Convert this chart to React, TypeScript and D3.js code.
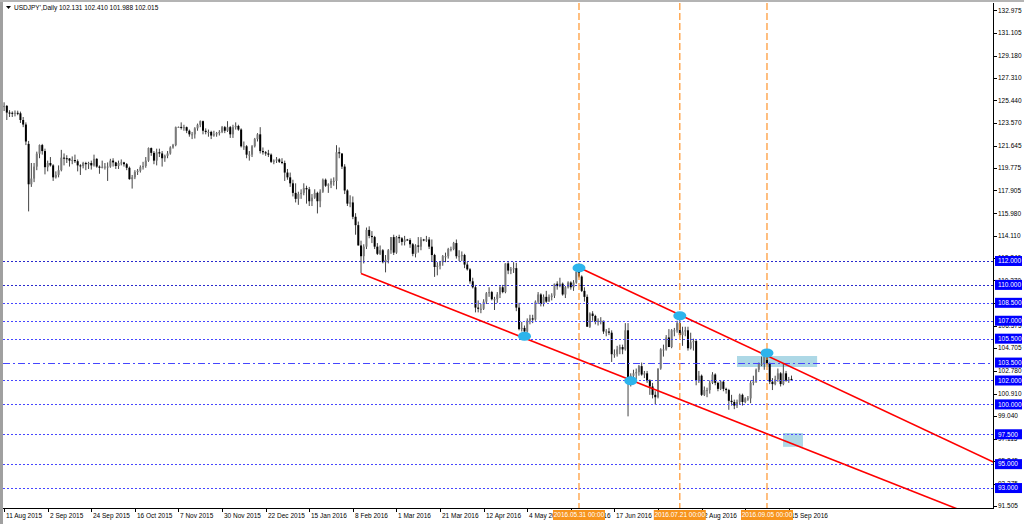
import React from 'react';
import * as d3 from 'd3';

const title = "USDJPY',Daily  102.131 102.410 101.988 102.015";

// daily bars [open, high, low, close], 11 Aug 2015 .. 16 Sep 2016
const bars: [number, number, number, number][] = [
  [124.88,125.28,124.55,124.98],[124.98,125.05,123.80,124.42],[124.42,124.62,124.05,124.40],[124.40,124.52,124.05,124.32],
  [124.32,124.60,124.10,124.40],[124.40,124.58,124.20,124.36],[124.36,124.50,123.55,123.80],[123.80,124.05,123.20,123.42],
  [123.42,123.60,121.70,122.00],[121.80,122.05,116.15,118.42],[118.42,120.20,118.20,118.90],[118.90,120.20,118.60,119.90],
  [119.90,121.15,119.60,120.98],[120.98,121.75,120.60,121.70],[121.70,121.80,120.90,121.20],[121.20,121.40,119.25,119.85],
  [119.85,120.40,119.50,120.20],[120.20,120.70,119.90,120.00],[120.00,120.10,118.70,119.00],[119.00,119.50,118.90,119.20],
  [119.20,120.00,119.00,119.60],[119.60,121.30,119.50,120.65],[120.65,121.00,120.00,120.60],[120.60,120.85,120.20,120.58],
  [120.58,120.60,119.90,120.40],[120.40,120.75,120.10,120.45],[120.45,120.90,120.20,120.35],[120.35,120.50,119.50,120.00],
  [120.00,120.10,119.20,119.95],[119.95,120.30,119.75,120.20],[120.20,120.30,119.60,120.10],[120.10,120.30,119.70,120.20],
  [120.20,120.40,119.65,120.00],[120.00,120.90,119.90,120.55],[120.55,120.60,119.80,119.90],[119.90,120.00,119.30,119.80],
  [119.80,120.40,119.75,119.88],[119.88,120.20,119.65,119.90],[119.90,120.25,118.70,119.90],[119.90,120.55,119.80,120.40],
  [120.40,120.60,119.90,120.25],[120.25,120.30,119.70,119.95],[119.95,120.40,119.70,120.20],[120.20,120.50,120.00,120.25],
  [120.25,120.30,119.90,120.10],[120.10,120.20,119.60,119.80],[119.80,119.90,118.80,118.85],[118.85,119.20,118.06,119.00],
  [119.00,119.60,118.85,119.45],[119.45,119.70,119.20,119.55],[119.55,120.00,119.40,119.85],[119.85,120.30,119.65,119.95],
  [119.95,120.70,119.80,120.40],[120.40,121.50,120.30,121.45],[121.45,121.50,120.80,121.05],[121.05,121.20,120.10,120.40],
  [120.40,121.40,120.00,121.10],[121.10,121.40,120.70,121.00],[121.00,121.20,119.90,120.60],[120.60,120.90,120.30,120.80],
  [120.80,121.20,120.60,121.00],[121.00,121.60,120.90,121.50],[121.50,121.80,121.40,121.70],[121.70,123.25,121.60,123.20],
  [123.20,123.25,123.15,123.22],[123.22,123.60,123.00,123.20],[123.20,123.40,122.90,123.20],[123.20,123.25,122.70,122.90],
  [122.90,123.00,122.40,122.60],[122.60,122.80,122.20,122.60],[122.60,123.20,122.25,123.10],[123.10,123.50,122.90,123.40],
  [123.40,123.76,123.20,123.70],[123.70,123.75,122.60,122.90],[122.90,123.10,122.60,122.80],[122.80,123.00,122.40,122.80],
  [122.80,122.90,122.20,122.50],[122.50,122.90,122.40,122.60],[122.60,122.80,122.40,122.70],[122.70,122.95,122.50,122.80],
  [122.80,123.30,122.70,123.20],[123.20,123.30,122.70,122.90],[122.90,123.70,122.80,123.20],[123.20,123.30,122.30,122.60],
  [122.60,123.40,122.30,123.20],[123.20,123.60,123.00,123.30],[123.30,123.40,122.90,123.00],[123.00,123.10,121.50,121.60],
  [121.60,122.00,121.30,121.60],[121.60,121.70,120.60,120.90],[120.90,121.20,120.40,120.90],[120.90,121.70,120.70,121.60],
  [121.60,122.30,121.50,122.20],[122.20,122.70,122.00,122.60],[122.60,123.20,121.00,121.20],[121.20,121.50,120.90,121.10],
  [121.10,121.20,120.80,121.00],[121.00,121.30,120.70,120.90],[120.90,121.00,120.20,120.30],[120.30,120.50,120.10,120.40],
  [120.40,120.70,120.20,120.50],[120.50,120.60,120.20,120.30],[120.30,120.60,120.10,120.20],[120.20,120.40,118.70,119.40],
  [119.40,119.70,118.80,119.00],[119.00,119.40,118.20,118.50],[118.50,118.80,117.40,117.70],[117.70,118.50,116.90,117.20],
  [117.20,117.80,116.70,117.60],[117.60,118.00,117.20,117.70],[117.70,118.50,117.50,118.10],[118.10,118.30,116.80,118.00],
  [118.00,118.20,116.60,117.00],[117.00,117.60,116.60,117.30],[117.30,118.00,117.20,117.70],[117.70,117.80,115.98,117.00],
  [117.00,118.00,116.50,117.80],[117.80,118.90,117.70,118.80],[118.80,118.90,118.20,118.30],[118.30,118.50,117.70,118.40],
  [118.40,118.90,118.10,118.70],[118.70,119.00,118.30,118.70],[118.70,121.69,118.00,121.10],[121.10,121.50,120.60,121.00],
  [121.00,121.00,119.70,119.90],[119.90,120.10,117.60,117.90],[117.90,118.00,116.60,116.80],[116.80,117.50,116.50,116.90],
  [116.90,117.40,115.50,115.70],[115.70,116.00,114.20,115.00],[115.00,115.30,113.30,113.30],[113.30,113.70,110.98,112.40],
  [112.40,113.40,111.80,113.20],[113.20,114.80,113.00,114.60],[114.60,114.90,113.90,114.10],[114.10,114.50,113.50,114.00],
  [114.00,114.10,113.00,113.20],[113.20,113.50,112.50,112.60],[112.60,113.30,112.50,112.90],[112.90,113.00,111.80,111.90],
  [111.90,112.50,111.05,112.10],[112.10,113.00,111.80,112.90],[112.90,114.00,112.60,114.00],[114.00,114.20,112.50,112.70],
  [112.70,114.10,112.60,114.00],[114.00,114.20,113.50,113.90],[113.90,114.00,113.30,113.60],[113.60,114.10,113.30,113.80],
  [113.80,113.85,113.70,113.75],[113.75,113.90,113.10,113.40],[113.40,113.50,112.40,112.60],[112.60,113.40,112.30,113.30],
  [113.30,114.00,112.70,113.20],[113.20,114.00,112.90,113.80],[113.80,113.85,113.65,113.75],[113.75,114.10,113.60,113.80],
  [113.80,114.00,113.00,113.20],[113.20,113.80,112.00,112.50],[112.50,112.60,110.67,111.50],[111.50,111.90,110.80,111.60],
  [111.60,112.00,111.30,111.90],[111.90,112.50,111.60,112.40],[112.40,112.70,111.90,112.40],[112.40,113.10,112.20,113.00],
  [113.00,113.20,112.80,113.00],[113.00,113.60,112.90,113.50],[113.50,113.80,112.20,112.40],[112.40,112.90,112.00,112.40],
  [112.40,112.80,112.00,112.50],[112.50,112.60,111.40,111.70],[111.70,111.90,111.20,111.30],[111.30,111.40,110.10,110.30],
  [110.30,110.60,109.70,109.80],[109.80,110.00,107.70,108.10],[108.10,108.70,107.70,108.00],[108.00,108.40,107.63,108.00],
  [108.00,108.80,107.90,108.60],[108.60,109.40,108.40,109.30],[109.30,109.80,109.00,109.40],[109.40,109.50,108.70,108.80],
  [108.80,109.00,107.90,108.80],[108.80,109.40,108.50,109.20],[109.20,109.90,108.90,109.80],[109.80,110.00,109.30,109.40],
  [109.40,111.80,109.30,111.80],[111.80,111.90,110.90,111.20],[111.20,111.50,110.90,111.30],[111.30,111.90,111.00,111.40],
  [111.40,111.85,107.80,108.10],[108.10,108.50,106.20,106.30],[106.30,106.90,106.10,106.40],[106.40,106.60,105.55,106.10],
  [106.10,107.20,106.00,107.00],[107.00,107.50,106.70,107.20],[107.20,107.50,106.80,107.10],[107.10,108.70,107.00,108.60],
  [108.60,109.40,108.40,109.20],[109.20,109.30,108.20,108.40],[108.40,109.20,108.20,109.00],[109.00,109.50,108.50,108.60],
  [108.60,109.20,108.60,109.00],[109.00,109.30,108.70,109.10],[109.10,110.10,108.90,110.10],[110.10,110.30,109.60,109.90],
  [109.90,110.60,109.80,110.10],[110.10,110.20,109.10,109.20],[109.20,109.90,108.90,109.80],[109.80,110.30,109.70,110.20],
  [110.20,110.30,109.60,109.80],[109.80,110.40,109.50,110.20],[110.20,111.20,110.10,111.10],[111.10,111.45,110.60,110.70],
  [110.70,110.80,109.40,109.50],[109.50,109.80,108.60,109.00],[109.00,109.20,106.50,106.50],[106.50,107.70,106.40,107.60],
  [107.60,107.80,107.00,107.40],[107.40,107.50,106.70,106.90],[106.90,107.20,106.60,107.00],[107.00,107.30,106.70,107.00],
  [107.00,107.00,105.90,106.10],[106.10,106.30,105.70,106.10],[106.10,106.40,105.80,106.00],[106.00,106.20,103.55,104.20],
  [104.20,104.60,103.90,104.20],[104.20,104.90,104.00,104.60],[104.60,105.00,104.20,104.80],[104.80,105.00,104.20,104.60],
  [104.60,106.80,104.50,106.20],[106.20,106.80,99.00,102.20],[102.20,102.60,101.50,102.40],[102.40,102.90,101.90,102.60],
  [102.60,103.00,102.10,102.70],[102.70,103.30,102.40,103.20],[103.20,103.50,102.40,102.50],[102.50,102.80,102.20,102.60],
  [102.60,102.80,101.80,102.00],[102.00,102.10,100.80,101.50],[101.50,101.80,100.50,100.80],[100.80,101.10,99.99,100.60],
  [100.60,103.00,100.50,103.00],[103.00,104.70,102.90,104.60],[104.60,105.00,104.00,104.60],[104.60,105.80,104.50,105.60],
  [105.60,106.30,104.80,104.80],[104.80,106.30,104.70,106.20],[106.20,106.40,105.70,106.20],[106.20,107.00,106.00,106.80],
  [106.80,107.49,105.60,105.80],[105.80,106.50,104.90,106.10],[106.10,106.50,105.70,106.20],[106.20,106.50,104.50,104.70],
  [104.70,106.00,104.60,105.20],[105.20,105.50,104.50,105.30],[105.30,105.40,101.60,102.00],[102.00,102.80,101.80,102.40],
  [102.40,102.50,100.70,100.80],[100.80,101.50,100.70,101.20],[101.20,101.40,100.60,101.20],[101.20,102.00,100.90,101.80],
  [101.80,102.70,101.70,102.50],[102.50,102.60,101.60,101.80],[101.80,101.90,101.10,101.30],[101.30,102.00,101.20,101.90],
  [101.90,102.00,101.10,101.30],[101.30,101.40,100.90,101.20],[101.20,101.30,99.55,100.30],[100.30,100.80,99.90,100.20],
  [100.20,100.40,99.60,99.90],[99.90,100.40,99.70,100.20],[100.20,100.90,100.00,100.80],[100.80,100.90,99.90,100.20],
  [100.20,100.60,100.10,100.50],[100.50,100.70,100.30,100.50],[100.50,102.00,100.10,101.80],[101.80,102.40,101.60,101.90],
  [101.90,103.00,101.80,102.90],[102.90,103.50,102.70,103.40],[103.40,104.00,103.20,103.40],[103.40,104.30,102.90,104.00],
  [104.00,104.10,103.30,103.40],[103.40,103.50,101.70,101.90],[101.90,102.20,101.20,101.70],[101.70,102.40,101.60,102.10],
  [102.10,103.00,101.90,102.60],[102.60,102.70,101.50,101.70],[101.70,103.40,101.60,102.60],[102.60,102.80,101.90,102.00],
  [102.00,102.30,101.80,102.10],[102.131,102.410,101.988,102.015],
];

const xLabels = ['11 Aug 2015', '2 Sep 2015', '24 Sep 2015', '16 Oct 2015', '7 Nov 2015', '30 Nov 2015', '22 Dec 2015',
  '15 Jan 2016', '8 Feb 2016', '1 Mar 2016', '21 Mar 2016', '12 Apr 2016', '4 May 2016', '26 May 2016', '17 Jun 2016',
  '11 Jul 2016', '2 Aug 2016', '24 Aug 2016', '15 Sep 2016'];
const xLabelStep = 16;

const yTicks = [132.975, 131.105, 129.18, 127.31, 125.44, 123.57, 121.645, 119.775, 117.905, 115.98, 114.11, 112.24,
  110.37, 108.505, 106.575, 104.705, 102.78, 100.91, 99.04, 97.115, 95.245, 93.375, 91.505];

const dottedLevels = [112, 110, 108.5, 107, 105.5, 102, 100, 97.5, 95, 93];
const dashDotLevel = 103.5;

const vLineBars = [211, 248, 280];
const vLineLabels = ['2016.05.31 00:00', '2016.07.21 00:00', '2016.09.05 00:00'];

// trend lines: [bar1, price1, bar2, price2]
const trendLines: [number, number, number, number][] = [
  [131, 110.95, 191, 105.55],
  [211, 111.45, 248, 107.49],
];

// ellipse markers [bar, price]
const markers: [number, number][] = [[191, 105.7], [211, 111.42], [230, 101.98], [248, 107.42], [280, 104.3]];

// rectangles [bar1, bar2, priceTop, priceBottom]
const zones: [number, number, number, number][] = [
  [269, 298.4, 104.05, 103.13],
  [285.9, 293.2, 97.6, 96.45],
];

const FONT = "'Liberation Sans', Arial, sans-serif";

export default function App() {
  const W = 1024, H = 524;
  const L = 3, R = 993, T = 3, B = 508;
  const x = d3.scaleLinear().domain([0, 289]).range([4.1, 4.1 + 289 * 2.7246]);
  const y = d3.scaleLinear().domain([91.33, 133.59]).range([B, T]);
  const fmt = d3.format('.3f');
  const boxHalf = 26;

  return (
    <svg width={W} height={H} style={{ position: 'absolute', left: 0, top: 0, background: '#fff' }}
      fontFamily={FONT}>
      <defs>
        <clipPath id="plot"><rect x={L} y={T} width={R - L} height={B - T} /></clipPath>
      </defs>
      <rect x={0} y={0} width={W} height={H} fill="#fff" />
      <rect x={0} y={0} width={3} height={H} fill="#a0a0a0" />
      <rect x={0} y={0} width={W} height={2} fill="#b4b4b4" />

      <g clipPath="url(#plot)">
        {zones.map((z, i) => (
          <rect key={i} x={x(z[0])} y={y(z[2])} width={x(z[1]) - x(z[0])} height={y(z[3]) - y(z[2])} fill="#add8e6" />
        ))}
        {bars.map((b, i) => {
          const cx = x(i);
          const [o, h, l, c] = b;
          const up = c >= o;
          const top = y(Math.max(o, c));
          const bh = Math.max(1, Math.abs(y(o) - y(c)));
          return (
            <g key={i}>
              <line x1={cx} x2={cx} y1={y(h)} y2={y(l)} stroke="#444" strokeWidth={1} />
              <rect x={cx - 1} y={top} width={2} height={bh} fill={up ? '#7a7a7a' : '#000'} />
            </g>
          );
        })}
        {dottedLevels.map((v, i) => (
          <line key={i} x1={L} x2={R} y1={Math.round(y(v)) + 0.5} y2={Math.round(y(v)) + 0.5}
            stroke={v >= 110 ? '#2a2acc' : '#4646ff'} strokeWidth={1} strokeDasharray="2,2" />
        ))}
        <line x1={L} x2={R} y1={Math.round(y(dashDotLevel)) + 0.5} y2={Math.round(y(dashDotLevel)) + 0.5}
          stroke="#4646ff" strokeWidth={1} strokeDasharray="7,3,2,3" />
        {vLineBars.map((b, i) => (
          <line key={i} x1={x(b)} x2={x(b)} y1={T} y2={B}
            stroke="#ff9d3c" strokeWidth={1.3} strokeDasharray="7,3" />
        ))}
        {trendLines.map((t, i) => {
          const slope = (t[3] - t[1]) / (t[2] - t[0]);
          const bEnd = 420;
          return (
            <line key={i} x1={x(t[0])} y1={y(t[1])} x2={x(bEnd)} y2={y(t[1] + slope * (bEnd - t[0]))}
              stroke="#ff0000" strokeWidth={1.6} />
          );
        })}
        {markers.map((m, i) => (
          <ellipse key={i} cx={x(m[0])} cy={y(m[1])} rx={6.5} ry={4.5} fill="#2db4ec" />
        ))}
      </g>

      {/* axes */}
      <line x1={R + 0.5} x2={R + 0.5} y1={T} y2={B + 1} stroke="#000" />
      <line x1={L} x2={R + 1} y1={B + 0.5} y2={B + 0.5} stroke="#000" />
      {yTicks.map((v, i) => (
        <g key={i}>
          <line x1={R} x2={R + 4} y1={Math.round(y(v)) + 0.5} y2={Math.round(y(v)) + 0.5} stroke="#000" />
          <text x={998} y={y(v)} dy="0.35em" fontSize={6.5} fill="#000">{fmt(v)}</text>
        </g>
      ))}
      {[...dottedLevels, dashDotLevel].map((v, i) => (
        <g key={i}>
          <rect x={995} y={y(v) - 5} width={27} height={10} fill="#0000ff" />
          <text x={998} y={y(v)} dy="0.35em" fontSize={6.5} fill="#fff">{fmt(v)}</text>
        </g>
      ))}
      {xLabels.map((s, i) => {
        const px = Math.round(x(i * xLabelStep)) + 0.5;
        const hidden = vLineBars.some(b => px - 2 >= x(b) - boxHalf && px + 40 <= x(b) + boxHalf);
        return (
          <g key={i}>
            <line x1={px} x2={px} y1={B} y2={B + 4} stroke="#000" />
            {!hidden && <text x={px + 1.5} y={518} fontSize={6.5} fill="#000">{s}</text>}
          </g>
        );
      })}
      {vLineBars.map((b, i) => (
        <g key={i}>
          <rect x={x(b) - boxHalf} y={510} width={boxHalf * 2} height={10} fill="#f7941d" />
          <text x={x(b)} y={515} dy="0.35em" textAnchor="middle" fontSize={6.5} fill="#fff">{vLineLabels[i]}</text>
        </g>
      ))}

      <path d="M6,6 L11,6 L8.5,9 Z" fill="#000" />
      <text x={14} y={10} fontSize={6.5} fill="#000">{title}</text>
    </svg>
  );
}
